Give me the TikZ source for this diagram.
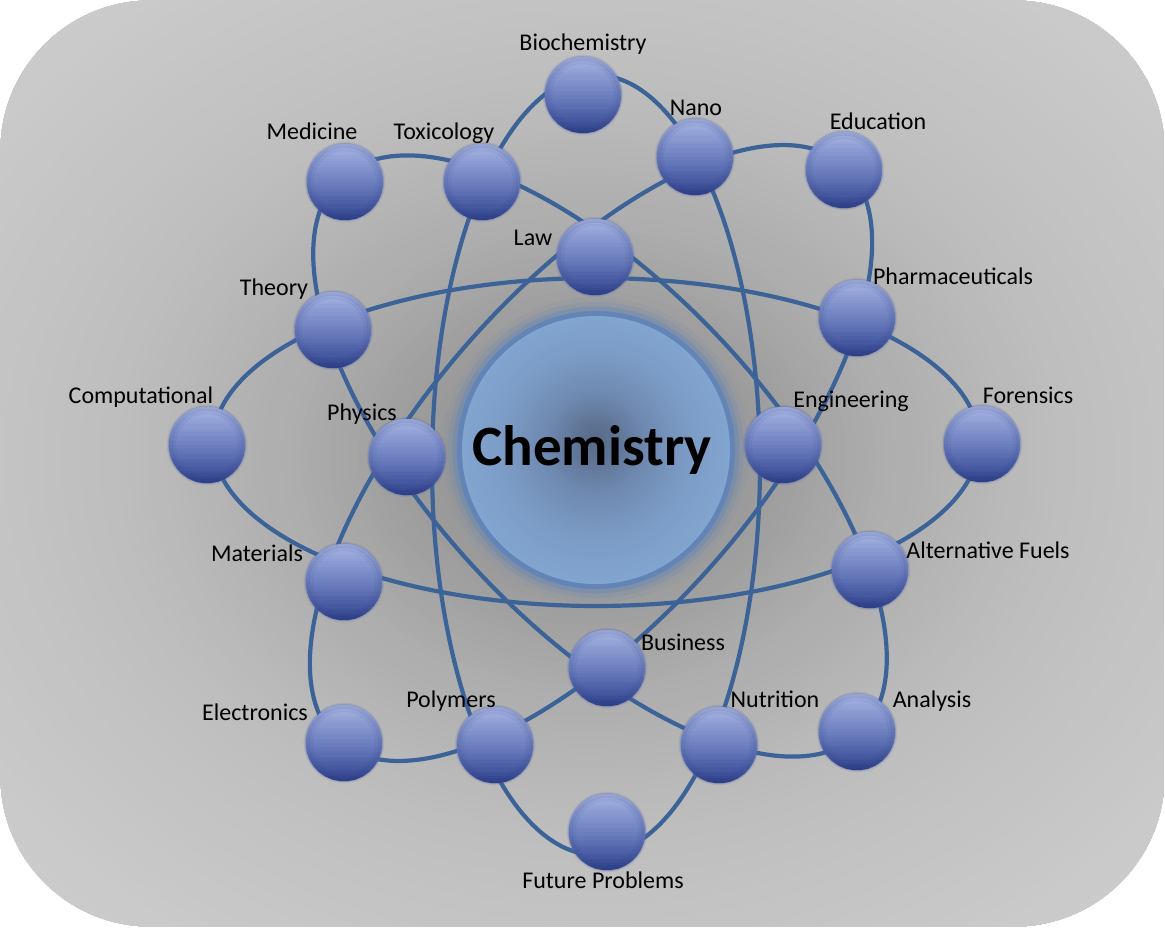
\documentclass[tikz,border=0pt]{standalone}
\usepackage{fontspec}
\setmainfont{Carlito}
\definecolor{orbc}{RGB}{60,99,152}
\definecolor{sE}{RGB}{44,60,128}
\definecolor{sM}{RGB}{84,102,168}
\definecolor{ring}{RGB}{96,132,184}
\tikzset{
  orbitline/.style={draw=orbc, line width=4.2pt},
  atom/.style={circle, minimum size=76pt, inner sep=0pt},
  lbl/.style={anchor=base, inner sep=0pt, font=\fontsize{24}{28}\selectfont, text=black},
}
% piecewise linear value with breakpoints 0, .3, .6, .85, 1
\newcommand{\pwlin}[7]{%
 \pgfmathtruncatemacro#1{(#2<0.3) ? (#3+(#4-#3)*#2/0.3) : ((#2<0.6) ? (#4+(#5-#4)*(#2-0.3)/0.3) : ((#2<0.85) ? (#5+(#6-#5)*(#2-0.6)/0.25) : (#6+(#7-#6)*(#2-0.85)/0.15)))}}
\newcommand{\atomsphere}[3]{%
  \fill[sM, opacity=0.12] (#2,#3) circle (40.3);
  \fill[sM, opacity=0.25] (#2,#3) circle (39.2);
  \begin{scope}
  \clip (#2,#3) circle (38.2);
  \foreach \k in {0,...,29}{%
    \pgfmathsetmacro\ff{(\k+0.5)/30}%
    \pgfmathsetmacro\ya{#3-38.5+77*\k/30}%
    \pgfmathsetmacro\yb{\ya+77/30+0.6}%
    \pwlin\cR\ff{170}{132}{98}{66}{44}%
    \pwlin\cG\ff{184}{149}{117}{84}{62}%
    \pwlin\cB\ff{228}{206}{183}{156}{134}%
    \definecolor{tmpsph}{RGB}{\cR,\cG,\cB}%
    \fill[tmpsph] (#2-39,\ya) rectangle (#2+39,\yb);
  }%
  \draw[sE, opacity=0.14, line width=4pt] (#2,#3) circle (36.5);
  \draw[sE, opacity=0.07, line width=4pt] (#2,#3) circle (33);
  \end{scope}
  \node[atom] (#1) at (#2,#3) {};
}
\newcommand{\orbitpath}[5]{%
  \draw[orbitline] plot[domain=0:360,samples=241,variable=\t]
   ({#1+#3*cos(\t)*cos(#5)-#4*sin(\t)*sin(#5)},{#2+#3*cos(\t)*sin(#5)+#4*sin(\t)*cos(#5)}) -- cycle;}
\begin{document}
\begin{tikzpicture}[x=1pt,y=-1pt]
\useasboundingbox (0,0) rectangle (1165,927);
\fill[white] (0,0) rectangle (1165,927);
% background
\begin{scope}
\clip[rounded corners=150pt] (0.5,0.5) rectangle (1164.5,926.5);
\foreach \k in {0,...,89}{%
  \pgfmathsetmacro\rhov{1.46*(1-\k/90)}%
  \pgfmathtruncatemacro\gv{(\rhov<0.25) ? (140+12*\rhov/0.25) : ((\rhov<0.5) ? (152+21*(\rhov-0.25)/0.25) : ((\rhov<0.8) ? (173+17*(\rhov-0.5)/0.3) : ((\rhov<1) ? (190+6*(\rhov-0.8)/0.2) : (196+12*(\rhov-1)/0.46))))}%
  \definecolor{tmpbg}{RGB}{\gv,\gv,\gv}%
  \fill[tmpbg] (588,458) ellipse [x radius=\rhov*590pt, y radius=\rhov*468pt];
}
\end{scope}
% orbits
\orbitpath{596}{442}{383}{164}{0}
\orbitpath{596}{465}{164}{390}{0}
\orbitpath{600}{456}{380}{168}{47}
\orbitpath{591}{453}{383}{165}{-48.8}
% central circle
\fill[ring, opacity=0.08] (596,450) circle (153);
\fill[ring, opacity=0.16] (596,450) circle (148);
\fill[ring, opacity=0.35] (596,450) circle (143.5);
\fill[ring, opacity=0.92] (596,450) circle (139);
\foreach \k in {0,...,39}{%
  \pgfmathsetmacro\ff{\k/39}%
  \pgfmathsetmacro\rr{133*(1-\ff)+1}%
  \pgfmathsetmacro\dd{10*\ff}%
  \pwlin\cR\ff{130}{124}{112}{96}{88}%
  \pwlin\cG\ff{165}{156}{139}{117}{106}%
  \pwlin\cB\ff{208}{198}{178}{150}{136}%
  \definecolor{tmpch}{RGB}{\cR,\cG,\cB}%
  \fill[tmpch] (596,450-\dd) circle (\rr);
}
\node[circle, minimum size=266pt, inner sep=0pt] (chem) at (596,450) {};
\node[font=\fontsize{57}{60}\selectfont\bfseries, anchor=base] (chemt) at (592,465) {Chemistry};
% spheres
\atomsphere{bio}{583}{95}
\atomsphere{nano}{695}{157}
\atomsphere{edu}{844}{170}
\atomsphere{med}{345}{182}
\atomsphere{tox}{482}{182}
\atomsphere{law}{595}{257}
\atomsphere{theo}{333}{330}
\atomsphere{pharm}{857}{318}
\atomsphere{comp}{207}{445}
\atomsphere{phys}{407}{457}
\atomsphere{eng}{783}{445}
\atomsphere{fore}{982}{444}
\atomsphere{mat}{344}{582}
\atomsphere{alt}{870}{570}
\atomsphere{bus}{607}{668}
\atomsphere{elec}{344}{743}
\atomsphere{poly}{495}{745}
\atomsphere{nutr}{719}{745}
\atomsphere{ana}{857}{732}
\atomsphere{fut}{607}{832}
% labels
\node[lbl] (bio-l) at (583,50) {Biochemistry};
\node[lbl] (nano-l) at (696,115) {Nano};
\node[lbl] (edu-l) at (878,129) {Education};
\node[lbl] (med-l) at (312,139) {Medicine};
\node[lbl] (tox-l) at (444,139) {Toxicology};
\node[lbl] (law-l) at (533,245) {Law};
\node[lbl] (theo-l) at (274,295) {Theory};
\node[lbl] (pharm-l) at (953,284) {Pharmaceuticals};
\node[lbl] (comp-l) at (141,403) {Computational};
\node[lbl] (phys-l) at (362,420) {Physics};
\node[lbl] (eng-l) at (851,407) {Engineering};
\node[lbl] (fore-l) at (1028,403) {Forensics};
\node[lbl] (mat-l) at (257,561) {Materials};
\node[lbl] (alt-l) at (988,558) {Alternative Fuels};
\node[lbl] (bus-l) at (683,650) {Business};
\node[lbl] (elec-l) at (255,720) {Electronics};
\node[lbl] (poly-l) at (451,707) {Polymers};
\node[lbl] (nutr-l) at (775,707) {Nutrition};
\node[lbl] (ana-l) at (932,707) {Analysis};
\node[lbl] (fut-l) at (603,888) {Future Problems};
\end{tikzpicture}
\end{document}
